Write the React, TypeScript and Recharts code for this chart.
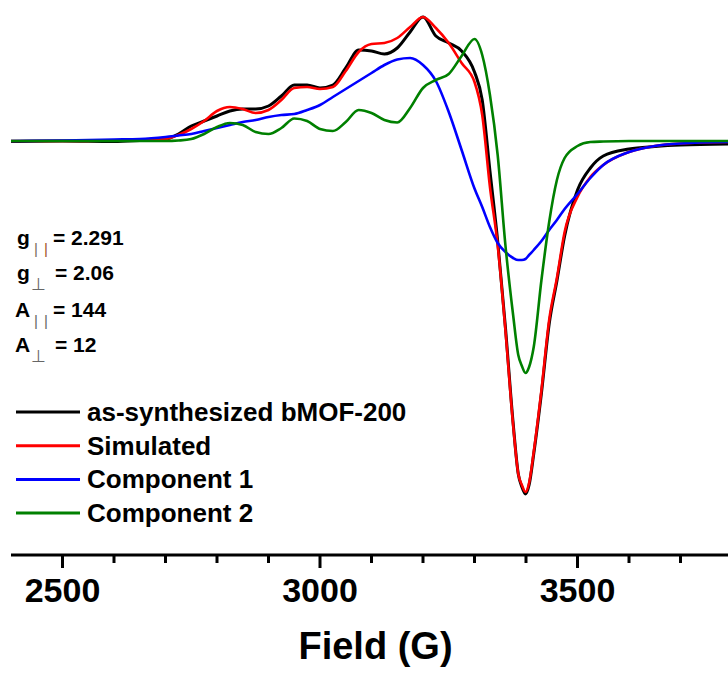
import { LineChart, Line, XAxis, YAxis, Legend } from 'recharts';

// magnetic field grid (G), denser around the sharp perpendicular line
const fieldG = [
  2400, 2500, 2600, 2650, 2700, 2725, 2750, 2775, 2800, 2825, 2850, 2875, 2900, 2925, 2950, 2975,
  3000, 3025, 3050, 3075, 3100, 3125, 3150, 3175, 3200, 3225, 3250, 3275, 3300, 3315, 3330, 3345,
  3360, 3375, 3385, 3392, 3399, 3406, 3415, 3430, 3445, 3460, 3475, 3500, 3525, 3550, 3600, 3650,
  3700, 3800,
];

// intensities (arb. units)
const experimental = [
  -0.5, 0, -0.5, 0.5, 2, 7, 15, 20, 25, 30, 32, 32, 35, 45, 56, 56,
  53, 56, 73, 91, 90, 87, 93, 109, 124, 105, 98, 90, 69, 41, -30, -100,
  -186, -282, -333, -346, -353, -344, -313, -252, -183, -140, -95, -49, -27, -15, -8, -5.5,
  -4, -3,
];
const simulated = [
  0, 0, 0.5, 1, 2, 6, 12, 20, 30, 34, 32, 28, 31, 41, 53, 54,
  52, 54, 70, 89, 97, 98, 103, 114, 124, 113, 98, 78, 59, 26, -46, -104,
  -189, -284, -333, -344, -351, -342, -311, -249, -179, -137, -91, -56, -36, -24, -11, -5,
  -2.5, -1,
];
const component1 = [
  0, 0.5, 1.5, 2, 4, 5.5, 7, 10, 13, 16, 19, 21, 24, 26, 27, 31,
  36, 44, 52, 60, 68, 76, 81.5, 83, 76, 60, 29, -9, -47.5, -66, -86, -102,
  -111, -117, -119, -119, -118, -114, -109, -100, -89, -79, -68, -53, -37, -24, -11, -5,
  -2.5, -1,
];
const component2 = [
  0, 0, 0, 0, 0, 0.5, 2, 7, 14, 18, 16, 9, 7, 13, 22.5, 20,
  12, 10, 19, 31, 28, 21, 18.5, 33, 53, 61, 67, 85, 102, 86, 46, -14,
  -104, -174, -214, -225, -232, -226, -206, -139, -81, -39, -17, -5, -1, -0.5, 0, 0,
  0, 0,
];

const fieldTicks = [2400, 2500, 2600, 2700, 2800, 2900, 3000, 3100, 3200, 3300, 3400, 3500, 3600, 3700];
const labelledTicks = [2500, 3000, 3500];

const seriesKeys = ['experimental', 'simulated', 'component1', 'component2'];
const seriesNames = ['as-synthesized bMOF-200', 'Simulated', 'Component 1', 'Component 2'];
const seriesColors = ['#000000', '#FF0000', '#0000FF', '#008000'];

const rows = fieldG.map((field, i) => ({
  field,
  experimental: experimental[i],
  simulated: simulated[i],
  component1: component1[i],
  component2: component2[i],
}));

const FONT = '"Liberation Sans", Arial, Helvetica, sans-serif';

const FieldTick = ({ x, y, payload }: any) => {
  const major = labelledTicks.includes(payload.value);
  return (
    <g>
      <line x1={x} x2={x} y1={y} y2={y + (major ? 13 : 8)} stroke="#000" strokeWidth={3} />
      {major && (
        <text x={x} y={y + 47} textAnchor="middle" fontFamily={FONT} fontWeight="bold" fontSize={34} fill="#000">
          {payload.value}
        </text>
      )}
    </g>
  );
};

const LegendBlock = () => (
  <svg width={460} height={140}>
    {seriesNames.map((name, i) => (
      <g key={name}>
        <line x1={16} x2={80} y1={22 + i * 33.7} y2={22 + i * 33.7} stroke={seriesColors[i]} strokeWidth={3} />
        <text x={87} y={31 + i * 33.7} fontFamily={FONT} fontWeight="bold" fontSize={26} fill="#000">
          {name}
        </text>
      </g>
    ))}
  </svg>
);

const pipeStyle = { fontSize: 15, fontWeight: 'normal' as const };
const perpStyle = { fontSize: 17, fontWeight: 'normal' as const };

const Parameters = () => (
  <svg width={200} height={380} style={{ position: 'absolute', left: 0, top: 0, pointerEvents: 'none' }}>
    <g fontFamily={FONT} fontWeight="bold" fontSize={21} fill="#000">
      <text x={17} y={245}>g</text>
      <text x={34} y={254} {...pipeStyle} fill="#7a6a5e">|</text>
      <text x={44} y={254} {...pipeStyle} fill="#a0522d">|</text>
      <text x={53} y={245}>= 2.291</text>

      <text x={17} y={280}>g</text>
      <text x={31} y={290} {...perpStyle} fill="#666">⊥</text>
      <text x={55} y={280}>= 2.06</text>

      <text x={15} y={317}>A</text>
      <text x={34} y={326} {...pipeStyle} fill="#666">|</text>
      <text x={44} y={326} {...pipeStyle} fill="#666">|</text>
      <text x={53} y={317}>= 144</text>

      <text x={15} y={352}>A</text>
      <text x={31} y={362} {...perpStyle} fill="#666">⊥</text>
      <text x={55} y={352}>= 12</text>
    </g>
  </svg>
);

export default function App() {
  return (
    <div style={{ position: 'absolute', left: 0, top: 0, width: 728, height: 675, overflow: 'hidden', background: '#fff' }}>
      <LineChart width={760} height={675} data={rows} margin={{ top: 0, right: 28, left: 11, bottom: 0 }}>
        <XAxis
          dataKey="field"
          type="number"
          domain={[2400, 3800]}
          ticks={fieldTicks}
          allowDataOverflow
          height={120}
          tickSize={0}
          tickMargin={0}
          tickLine={false}
          tick={<FieldTick />}
          axisLine={{ stroke: '#000', strokeWidth: 3 }}
          label={{
            value: 'Field (G)',
            position: 'insideBottom',
            offset: 16,
            dx: 4,
            fontSize: 38,
            fontWeight: 'bold',
            fontFamily: FONT,
            fill: '#000',
          }}
        />
        <YAxis hide type="number" domain={[-414, 141]} allowDataOverflow />
        <Legend
          layout="vertical"
          align="center"
          verticalAlign="middle"
          wrapperStyle={{ left: 0, top: 390, width: 460, height: 140 }}
          content={<LegendBlock />}
        />
        {seriesKeys.map((key, i) => (
          <Line
            key={key}
            dataKey={key}
            name={seriesNames[i]}
            type="monotone"
            stroke={seriesColors[i]}
            strokeWidth={i === 0 ? 3 : 2.6}
            dot={false}
            activeDot={false}
            isAnimationActive={false}
          />
        ))}
      </LineChart>
      <Parameters />
    </div>
  );
}
